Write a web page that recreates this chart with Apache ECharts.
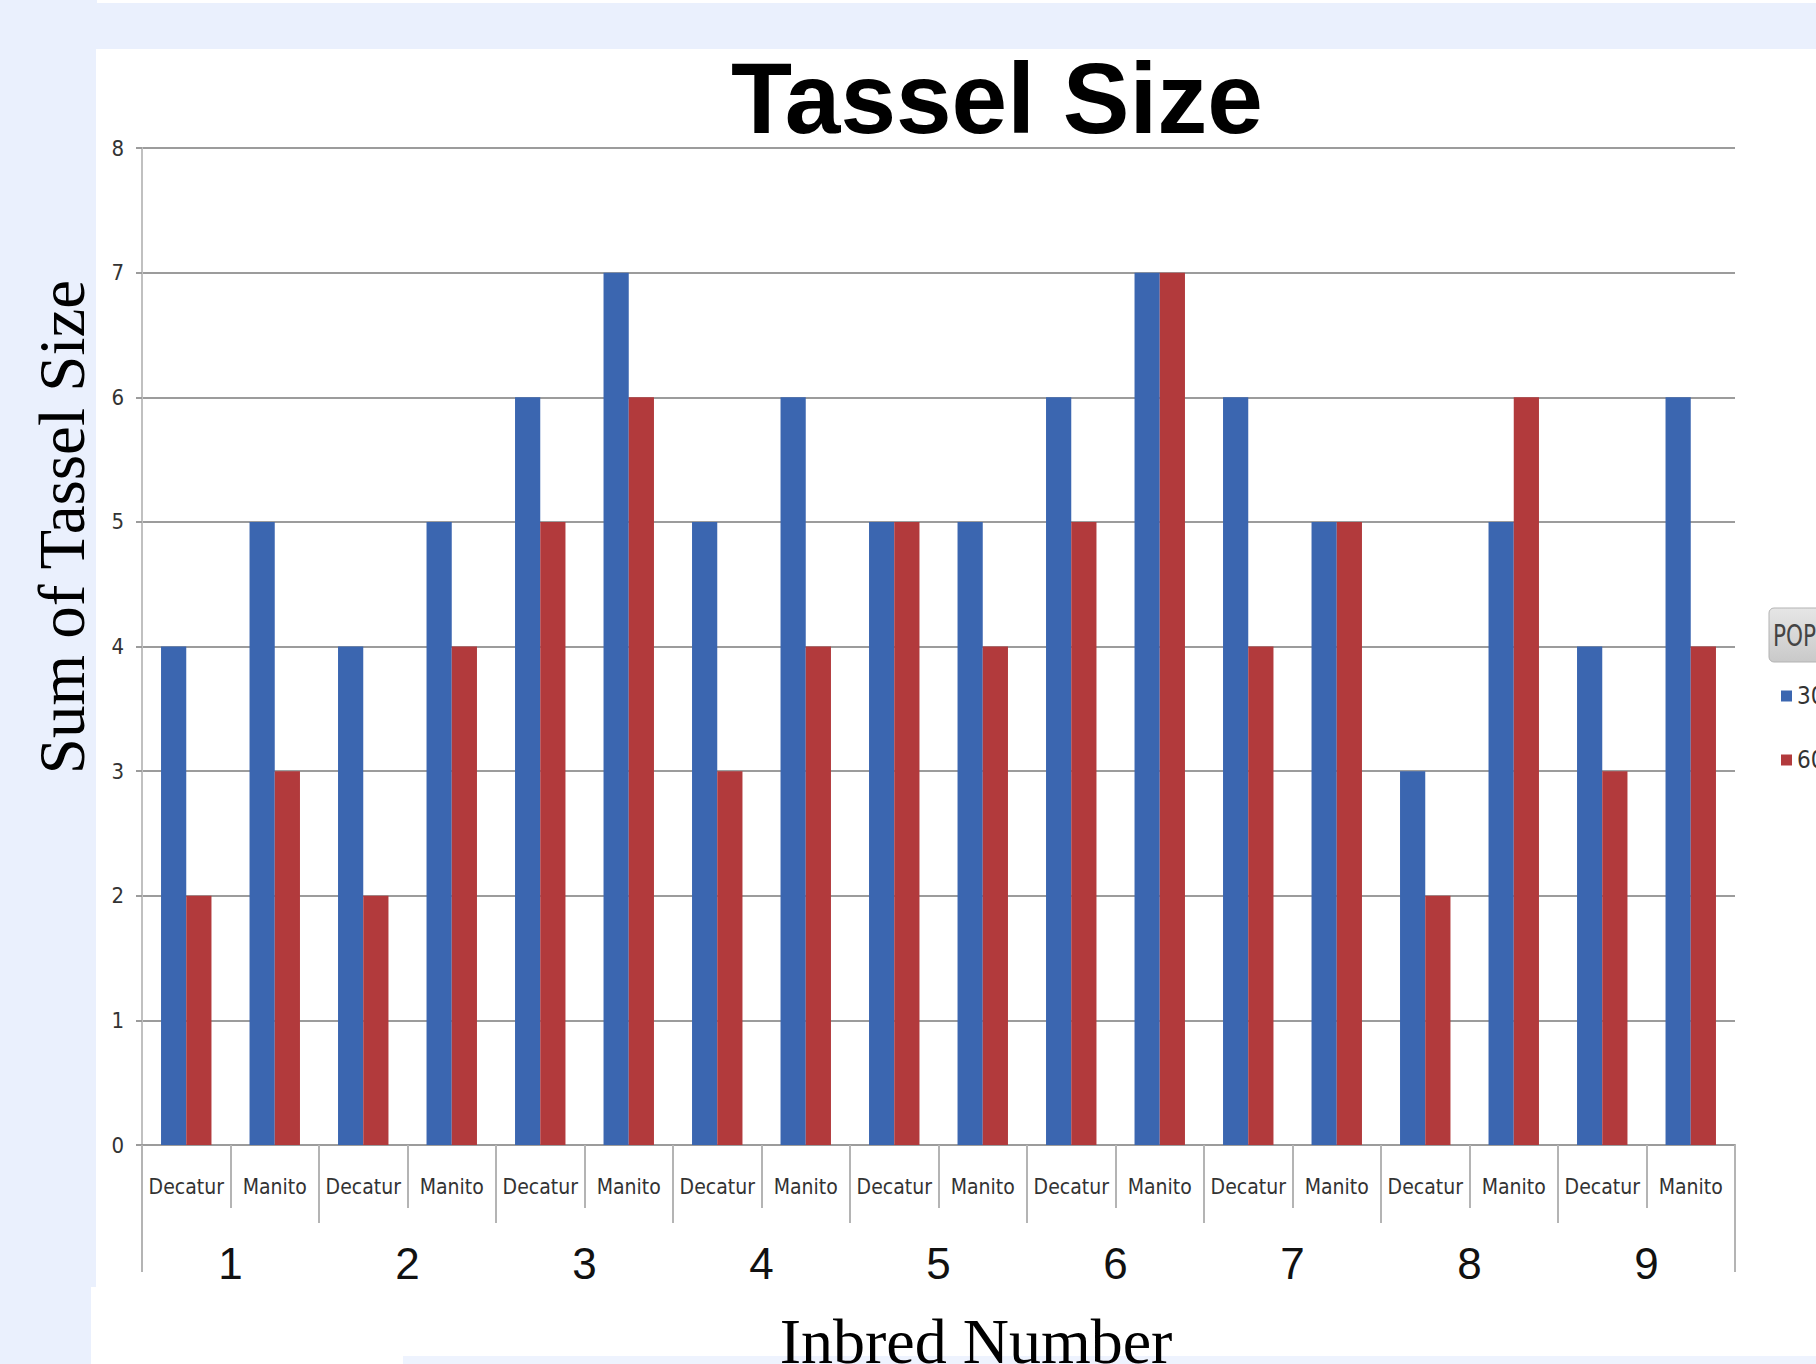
<!DOCTYPE html>
<html>
<head>
<meta charset="utf-8">
<script src="https://cdn.jsdelivr.net/npm/echarts@6/dist/echarts.min.js"></script>
<style>
  html, body { margin: 0; padding: 0; width: 1816px; height: 1364px; overflow: hidden; background: #eaf0fd; }
  .w { position: absolute; background: #ffffff; }
  #chart { position: absolute; left: 0; top: 0; width: 1816px; height: 1364px; }
</style>
</head>
<body>
<div class="w" style="left:97px;top:0;width:1719px;height:3px;"></div>
<div class="w" style="left:96px;top:49px;width:1720px;height:1238px;"></div>
<div class="w" style="left:91px;top:1287px;width:1725px;height:77px;"></div>
<div style="position:absolute;left:403px;top:1356px;width:1413px;height:8px;background:#eef3fe;"></div>
<div id="chart"></div>
<script>
// ---- data ----
const inbreds = ['1', '2', '3', '4', '5', '6', '7', '8', '9'];
const sites = ['Decatur', 'Manito'];
const pop30 = [4, 5, 4, 5, 6, 7, 5, 6, 5, 5, 6, 7, 6, 5, 3, 5, 4, 6];
const pop60 = [2, 3, 2, 4, 5, 6, 3, 4, 5, 4, 5, 7, 4, 5, 2, 6, 3, 4];
const seriesNames = ['30', '60'];
const yMin = 0, yMax = 8, yStep = 1;
const titleText = 'Tassel Size';
const yTitle = 'Sum of Tassel Size';
const xTitle = 'Inbred Number';
const legendTitle = 'POP';

// category keys built from the arrays above
const categories = [];
inbreds.forEach(g => sites.forEach(s => categories.push(g + '|' + s)));

const NARROW = '"Liberation Sans Narrow", "DejaVu Sans Condensed", "Arial Narrow", sans-serif';
const GRID = '#9c9c9c';
const TICK = '#b4b4b4';

const chart = echarts.init(document.getElementById('chart'), null, { renderer: 'svg' });
chart.setOption({
  backgroundColor: 'transparent',
  animation: false,
  grid: { left: 142, right: 81, top: 148, bottom: 219, containLabel: false, outerBoundsMode: 'none' },
  xAxis: [
    {
      type: 'category', data: categories, position: 'bottom',
      axisLine: { show: true, lineStyle: { color: GRID, width: 2 } },
      axisTick: { show: true, interval: 0, alignWithLabel: false, length: 63, lineStyle: { color: TICK, width: 2 } },
      axisLabel: {
        interval: 0, margin: 31, fontSize: 21, fontFamily: NARROW, color: '#333',
        formatter: v => v.split('|')[1]
      },
      splitLine: { show: false }
    },
    {
      type: 'category', data: inbreds, position: 'bottom',
      axisLine: { show: false },
      axisTick: { show: true, interval: 0, alignWithLabel: false, length: 78, lineStyle: { color: TICK, width: 2 } },
      axisLabel: { interval: 0, margin: 96, fontSize: 44, fontFamily: '"Liberation Sans", Arial, sans-serif', color: '#111' },
      splitLine: { show: false }
    },
    {
      type: 'category', data: [''], position: 'bottom',
      axisLine: { show: false },
      axisTick: { show: true, interval: 0, alignWithLabel: false, length: 127, lineStyle: { color: TICK, width: 2 } },
      axisLabel: { show: false },
      splitLine: { show: false }
    }
  ],
  yAxis: {
    type: 'value', min: yMin, max: yMax, interval: yStep,
    axisLine: { show: true, lineStyle: { color: '#c0c0c0', width: 2 } },
    axisTick: { show: true, length: 6, lineStyle: { color: GRID, width: 2 } },
    axisLabel: { margin: 18, fontSize: 22, fontFamily: NARROW, color: '#333' },
    splitLine: { show: true, lineStyle: { color: GRID, width: 2 } }
  },
  legend: {
    data: seriesNames, orient: 'vertical', left: 1776, top: 679,
    itemWidth: 11, itemHeight: 11, itemGap: 40, icon: 'rect',
    textStyle: { fontSize: 24, fontFamily: NARROW, color: '#333' }
  },
  series: [
    { name: seriesNames[0], type: 'bar', xAxisIndex: 0, data: pop30, barGap: '0%', barCategoryGap: '43%',
      itemStyle: { color: '#3b66b0' } },
    { name: seriesNames[1], type: 'bar', xAxisIndex: 0, data: pop60, barGap: '0%', barCategoryGap: '43%',
      itemStyle: { color: '#b23a3c' } }
  ],
  graphic: [
    { type: 'text', x: 997, y: 98, style: { text: titleText, font: 'bold 100px "Liberation Sans", Arial, sans-serif',
      fill: '#000', align: 'center', verticalAlign: 'middle' } },
    { type: 'text', x: 62, y: 527, rotation: Math.PI / 2, style: { text: yTitle, font: '65px "Liberation Serif", "Times New Roman", serif',
      fill: '#000', align: 'center', verticalAlign: 'middle' } },
    { type: 'text', x: 976, y: 1341, style: { text: xTitle, font: '64px "Liberation Serif", "Times New Roman", serif',
      fill: '#000', align: 'center', verticalAlign: 'middle' } },
    { type: 'rect', shape: { x: 1769, y: 608, width: 70, height: 54, r: 5 },
      style: { fill: new echarts.graphic.LinearGradient(0, 0, 0, 1, [{ offset: 0, color: '#e6e6e6' }, { offset: 1, color: '#c9c9c9' }]),
      stroke: '#b3b3b3', lineWidth: 1 } },
    { type: 'text', x: 1773, y: 636, scaleX: 0.8, style: { text: legendTitle, font: '30px ' + NARROW,
      fill: '#444', align: 'left', verticalAlign: 'middle' } }
  ]
});
</script>
</body>
</html>
